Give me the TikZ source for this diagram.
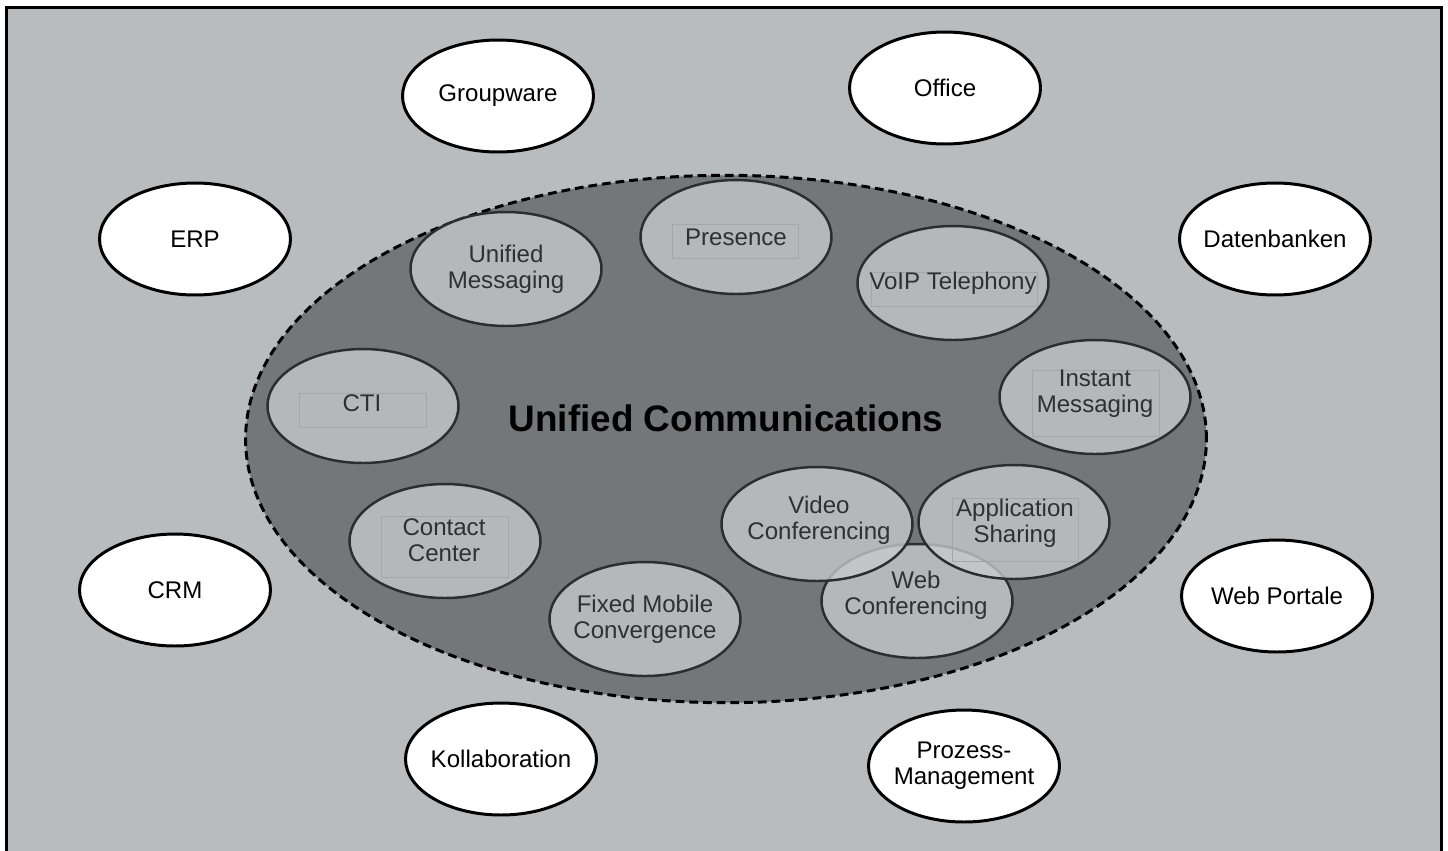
\documentclass[tikz,border=0pt]{standalone}
\usepackage{fontspec}
\setmainfont{Liberation Sans}
\usepackage{xcolor}
\usepackage{tikz}
\usetikzlibrary{positioning,shapes.geometric}

\definecolor{bggray}{HTML}{B8BCBE}
\definecolor{coregray}{HTML}{737779}
\definecolor{satfill}{HTML}{C7CACC}
\definecolor{satline}{HTML}{2B2D2F}
\definecolor{sattext}{HTML}{2E3134}
\definecolor{boxline}{HTML}{A3A7A9}

\tikzset{
	app/.style={ellipse, draw=black, line width=1.7pt, fill=white, minimum width=3.82cm, minimum height=2.24cm, inner xsep=-0.2cm, inner ysep=0, align=center, font=\fontsize{13.7}{14.8}\selectfont},
	sat/.style={ellipse, draw=satline, line width=1.4pt, fill=satfill, fill opacity=0.79, minimum width=3.82cm, minimum height=2.28cm, inner sep=0},
	satlabel/.style={align=center, text=sattext, inner sep=0, font=\fontsize{13.7}{14.8}\selectfont},
	txtframe/.style={draw=boxline, line width=0.4pt, inner sep=0}
}

\begin{document}
\begin{tikzpicture}[x=0.02cm, y=-0.02cm]
	\useasboundingbox (0,0) rectangle (1448,850);
	\draw[fill=bggray, line width=1.7pt] (6.5,7.5) rectangle (1441,870);

	\node[ellipse, draw=black, line width=1.7pt, dash pattern=on 5pt off 2.8pt, fill=coregray, minimum width=19.22cm, minimum height=10.55cm, inner sep=0] (uc) at (726,439) {};
	\node[font=\fontsize{21}{25}\selectfont\bfseries, inner sep=0] (uc-t) at (726,418) {Unified Communications};

	% applications around
	\node[app] (groupware) at (498,96) {Groupware};
	\node[app] (office) at (945,88) {Office};
	\node[app] (erp) at (195,239) {ERP};
	\node[app] (db) at (1275,239) {Datenbanken};
	\node[app] (crm) at (175,590) {CRM};
	\node[app] (portal) at (1277,596) {Web Portale};
	\node[app] (kollab) at (501,759) {Kollaboration};
	\node[app] (prozess) at (964,766) {Prozess-\\Management};

	% UC services
	\node[sat] (um) at (506,269) {};
	\node[satlabel] (um-t) at (um) {Unified\\Messaging};
	\node[sat] (pres) at (736,237) {};
	\node[txtframe, minimum width=2.52cm, minimum height=0.68cm] (pres-f) at (735,241) {};
	\node[satlabel] (pres-t) at (pres) {Presence};
	\node[sat] (voip) at (953,283) {};
	\node[txtframe, minimum width=3.32cm, minimum height=0.68cm] (voip-f) at (954,289) {};
	\node[satlabel] (voip-t) at (voip) {VoIP Telephony};
	\node[sat] (im) at (1095,397) {};
	\node[txtframe, minimum width=2.54cm, minimum height=1.32cm] (im-f) at (1096,403) {};
	\node[satlabel] (im-t) at (1095,394) {Instant\\Messaging};
	\node[sat] (cti) at (363,406) {};
	\node[txtframe, minimum width=2.54cm, minimum height=0.68cm] (cti-f) at (363,410) {};
	\node[satlabel] (cti-t) at (362,403) {CTI};
	\node[sat] (cc) at (445,541) {};
	\node[txtframe, minimum width=2.54cm, minimum height=1.22cm] (cc-f) at (445,547) {};
	\node[satlabel] (cc-t) at (444,540) {Contact\\Center};
	\node[sat] (fmc) at (645,619) {};
	\node[satlabel] (fmc-t) at (fmc) {Fixed Mobile\\Convergence};
	\node[sat] (web) at (917,601) {};
	\node[satlabel] (web-t) at (916,595) {Web\\Conferencing};
	\node[sat] (video) at (817,524) {};
	\node[satlabel] (video-t) at (819,520) {Video\\Conferencing};
	\node[sat] (share) at (1014,522) {};
	\node[txtframe, minimum width=2.52cm, minimum height=1.26cm] (share-f) at (1015,530) {};
	\node[satlabel] (share-t) at (1015,523) {Application\\Sharing};
\end{tikzpicture}
\end{document}
